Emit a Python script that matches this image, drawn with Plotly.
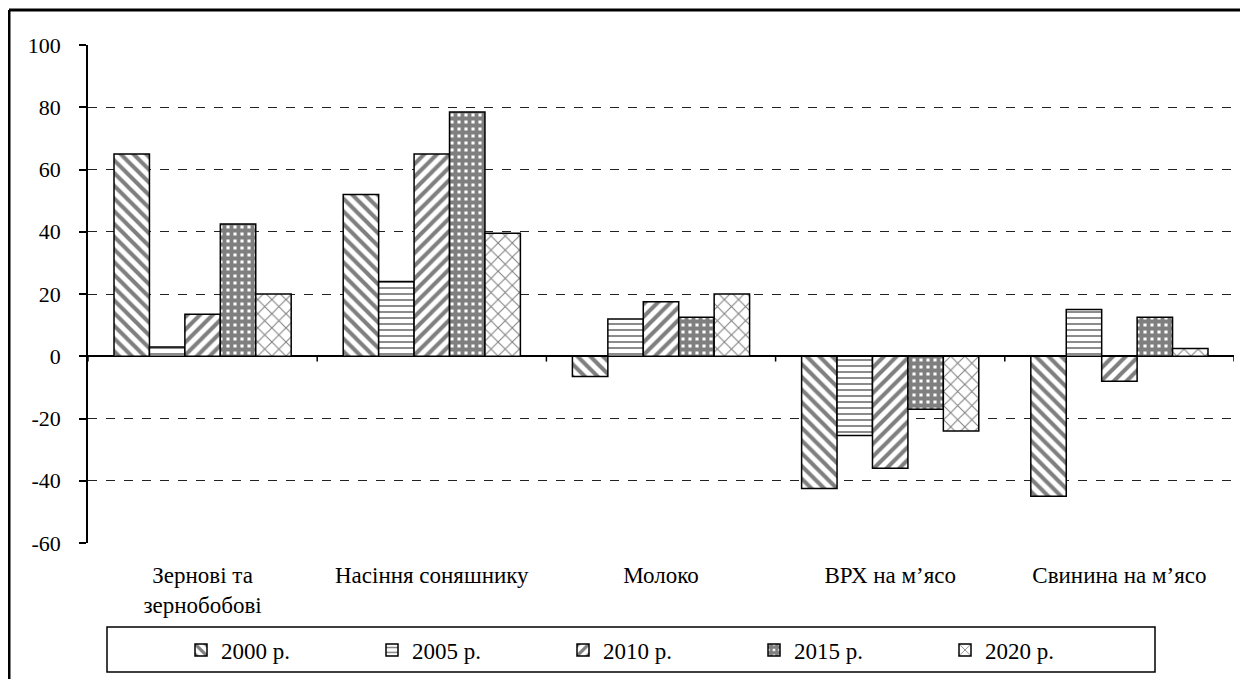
import plotly.graph_objects as go

categories = ["Зернові та<br>зернобобові", "Насіння соняшнику", "Молоко",
              "ВРХ на м’ясо", "Свинина на м’ясо"]
series_names = ["2000 р.", "2005 р.", "2010 р.", "2015 р.", "2020 р."]
v2000 = [65, 52, -6.5, -42.5, -45]
v2005 = [3, 24, 12, -25.5, 15]
v2010 = [13.5, 65, 17.5, -36, -8]
v2015 = [42.5, 78.5, 12.5, -17, 12.5]
v2020 = [20, 39.5, 20, -24, 2.5]
y_ticks = [100, 80, 60, 40, 20, 0, -20, -40, -60]
y_tick_text = ["100", "80", "60", "40", "20", "0", "-20", "-40", "-60"]

values = [v2000, v2005, v2010, v2015, v2020]
patterns = [
    dict(shape="\\", size=9, solidity=0.45),
    dict(shape="-", size=6, solidity=0.3),
    dict(shape="/", size=9, solidity=0.45),
    dict(shape="+", size=7, solidity=0.8),
    dict(shape="x", size=10, solidity=0.2),
]

# page body has an 8px margin: work in reference pixels, shifted by OFF
OFF = 8
W, H = 1248 - OFF, 679 - OFF
L, R, T, B = 88 - OFF, 1234 - OFF, 45 - OFF, 543 - OFF
FONT = "Liberation Serif, Times New Roman, serif"

def px_x(x):
    return (x - OFF - L) / (R - L)

def px_y(y):
    return (B - (y - OFF)) / (B - T)

fig = go.Figure()
for name, vals, pat in zip(series_names, values, patterns):
    fig.add_trace(go.Bar(
        x=list(range(len(categories))), y=vals, name=name,
        marker=dict(color="white",
                    line=dict(color="black", width=1.5),
                    pattern=dict(fgcolor="black", bgcolor="white",
                                 fillmode="overlay", **pat)),
    ))

shapes = []
# category boundary ticks below the zero line
for i in range(len(categories) + 1):
    shapes.append(dict(type="line", xref="x", yref="y",
                       x0=i - 0.5, x1=i - 0.5, y0=0, y1=-1.7,
                       line=dict(color="black", width=1.5)))
# legend frame
shapes.append(dict(type="rect", xref="paper", yref="paper",
                   x0=px_x(107), x1=px_x(1155), y0=px_y(672), y1=px_y(627),
                   line=dict(color="black", width=1.5), layer="above"))
# outer document frame (top and left)
shapes.append(dict(type="line", xref="paper", yref="paper",
                   x0=px_x(9), x1=px_x(1270), y0=px_y(10), y1=px_y(10),
                   line=dict(color="black", width=3)))
shapes.append(dict(type="line", xref="paper", yref="paper",
                   x0=px_x(9), x1=px_x(9), y0=px_y(10), y1=px_y(700),
                   line=dict(color="black", width=3)))

fig.update_layout(
    width=W, height=H,
    margin=dict(l=L, r=W - R, t=T, b=H - B, autoexpand=False),
    paper_bgcolor="white", plot_bgcolor="white",
    font=dict(family=FONT, size=22, color="black"),
    barmode="group", bargap=0.227, bargroupgap=0,
    showlegend=True,
    legend=dict(orientation="h", x=px_x(181), xanchor="left",
                y=px_y(650), yanchor="middle",
                entrywidth=146, entrywidthmode="pixels",
                font=dict(family=FONT, size=23),
                bgcolor="rgba(0,0,0,0)", borderwidth=0,
                itemwidth=30, traceorder="normal"),
    shapes=shapes,
    xaxis=dict(tickmode="array", tickvals=list(range(len(categories))),
               ticktext=categories, range=[-0.5, len(categories) - 0.5],
               showgrid=False, zeroline=False, showline=False,
               ticks="outside", ticklen=11, tickcolor="rgba(0,0,0,0)",
               tickfont=dict(family=FONT, size=23)),
    yaxis=dict(range=[-60, 100], tickmode="array", tickvals=y_ticks,
               ticktext=y_tick_text,
               showgrid=True, gridcolor="#222", gridwidth=1, griddash="dash",
               zeroline=True, zerolinecolor="black", zerolinewidth=1.5,
               showline=True, linecolor="black", linewidth=1.5,
               ticks="outside", ticklen=7, tickcolor="black", tickwidth=1.5,
               ticklabelstandoff=14,
               tickfont=dict(family=FONT, size=22)),
)

fig.write_html("out.html")
